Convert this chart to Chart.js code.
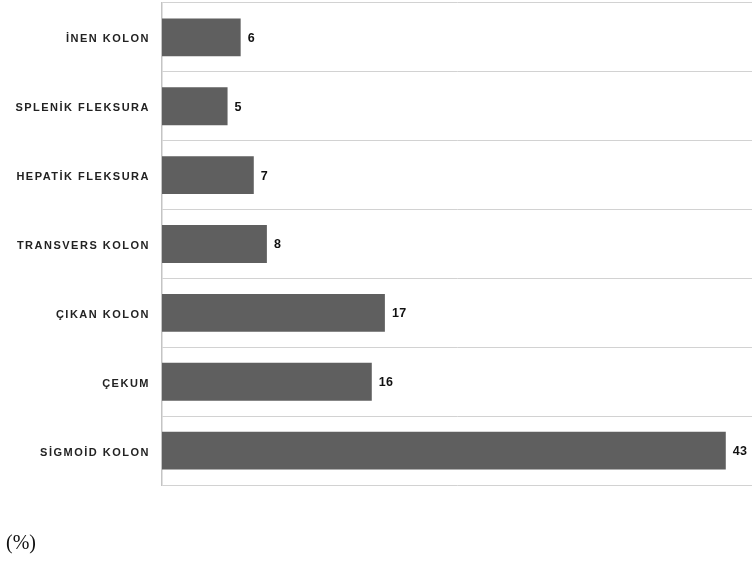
<!DOCTYPE html>
<html>
<head>
<meta charset="utf-8">
<script src="https://cdn.jsdelivr.net/npm/chart.js@4"></script>
<style>
  html, body { margin: 0; padding: 0; background: #fff; }
  #wrap { position: relative; width: 752px; height: 561px; }
  #note { position: absolute; left: 6px; top: 531px; font-family: "Liberation Serif", "Times New Roman", serif; font-size: 20px; line-height: 23px; color: #111; }
</style>
</head>
<body>
<div id="wrap">
  <canvas id="c" width="752" height="561"></canvas>
  <div id="note">(%)</div>
</div>
<script>
const categories = ["İNEN KOLON", "SPLENİK FLEKSURA", "HEPATİK FLEKSURA", "TRANSVERS KOLON", "ÇIKAN KOLON", "ÇEKUM", "SİGMOİD KOLON"];
const values = [6, 5, 7, 8, 17, 16, 43];

const spacing = {
  id: 'spacing',
  beforeInit(chart) { chart.ctx.letterSpacing = '1.5px'; },
  beforeDraw(chart) { chart.ctx.letterSpacing = '1.5px'; }
};

const valueLabels = {
  id: 'valueLabels',
  afterDatasetsDraw(chart) {
    const ctx = chart.ctx;
    const meta = chart.getDatasetMeta(0);
    ctx.save();
    ctx.letterSpacing = '0.3px';
    ctx.font = 'bold 12.5px "Liberation Sans", Arial, sans-serif';
    ctx.fillStyle = '#111';
    ctx.textAlign = 'left';
    ctx.textBaseline = 'middle';
    meta.data.forEach((bar, i) => {
      ctx.fillText(String(values[i]), bar.x + 7, bar.y + 1);
    });
    ctx.restore();
  }
};

new Chart(document.getElementById('c'), {
  type: 'bar',
  data: {
    labels: categories,
    datasets: [{
      data: values,
      backgroundColor: '#5f5f5f',
      borderColor: '#5f5f5f',
      borderWidth: 0,
      barPercentage: 0.55,
      categoryPercentage: 1.0
    }]
  },
  options: {
    indexAxis: 'y',
    responsive: false,
    animation: false,
    layout: { padding: { top: 3, right: 0, bottom: 76, left: 0 } },
    plugins: { legend: { display: false }, tooltip: { enabled: false } },
    scales: {
      x: {
        display: false,
        min: 0,
        max: 45
      },
      y: {
        afterFit(scale) { scale.width = 162; scale.paddingTop = 0; scale.paddingBottom = 0; },
        grid: {
          offset: true,
          color: '#d2d2d2',
          lineWidth: 1,
          drawTicks: false
        },
        border: { color: '#c4c4c4', width: 1.5 },
        ticks: {
          color: '#222',
          padding: 12,
          labelOffset: 2,
          font: { family: '"Liberation Sans", Arial, sans-serif', size: 11, weight: 'bold' }
        }
      }
    }
  },
  plugins: [spacing, valueLabels]
});
</script>
</body>
</html>
